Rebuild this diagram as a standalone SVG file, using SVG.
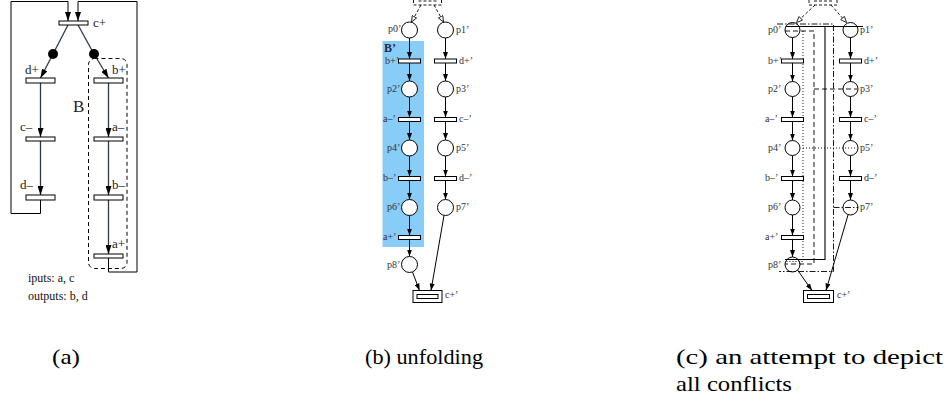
<svg xmlns="http://www.w3.org/2000/svg" width="949" height="403" viewBox="0 0 949 403">
  <style>
    .bg { fill: #ffffff; }
    .bar { fill: #ffffff; stroke: #000; stroke-width: 1; }
    .pl { fill: #ffffff; stroke: #000; stroke-width: 1; }
    .tok { fill: #000; }
    .arcA { fill: none; stroke: #2b3b4b; stroke-width: 1.3; }
    .arc { fill: none; stroke: #000; stroke-width: 1; }
    .loop { fill: none; stroke: #000; stroke-width: 1; }
    .dash { fill: none; stroke: #000; stroke-width: 1; stroke-dasharray: 4 3; }
    .dashd { fill: none; stroke: #000; stroke-width: 0.9; stroke-dasharray: 3 2; }
    .c-solid { fill: none; stroke: #000; stroke-width: 1.1; }
    .c-dashdot { fill: none; stroke: #000; stroke-width: 0.9; stroke-dasharray: 6 2 1.5 2; }
    .c-dashed { fill: none; stroke: #000; stroke-width: 0.9; stroke-dasharray: 5 3; }
    .c-dotted { fill: none; stroke: #000; stroke-width: 0.9; stroke-dasharray: 1 2; }
    .lblA { font-family: "Liberation Serif", "Times New Roman", Times, "DejaVu Serif", serif; font-size: 13px; fill: #222; }
    .lbl { font-family: "Liberation Serif", "Times New Roman", Times, "DejaVu Serif", serif; font-size: 10px; fill: #333; }
    .io { font-family: "Liberation Serif", "Times New Roman", Times, "DejaVu Serif", serif; font-size: 12px; fill: #111; }
    .cap { font-family: "Liberation Serif", "Times New Roman", Times, "DejaVu Serif", serif; font-size: 22px; fill: #000; }
  </style>
  <defs>
    <marker id="arrA" viewBox="0 0 9 6" refX="9" refY="3" markerWidth="9" markerHeight="6" markerUnits="userSpaceOnUse" orient="auto">
      <path d="M0,0 L9,3 L0,6 z" fill="#000"/>
    </marker>
    <marker id="arr" viewBox="0 0 7 5" refX="7" refY="2.5" markerWidth="7" markerHeight="5" markerUnits="userSpaceOnUse" orient="auto">
      <path d="M0,0 L7,2.5 L0,5 z" fill="#000"/>
    </marker>
    <marker id="arrOpen" viewBox="0 0 7 6" refX="6.5" refY="3" markerWidth="7" markerHeight="6" markerUnits="userSpaceOnUse" orient="auto">
      <path d="M0.5,0.5 L6.5,3 L0.5,5.5 z" fill="#fff" stroke="#000" stroke-width="0.8"/>
    </marker>
  </defs>

  <rect class="bg" x="0" y="0" width="949" height="403"/>

  <!-- ===================== (a) original net ===================== -->
  <g id="a-region-B">
    <rect class="dash" x="88.5" y="58.5" width="38.5" height="210" rx="6"/>
    <text class="lblA" x="73" y="112" style="font-size:17px">B</text>
  </g>

  <g id="a-connectors">
    <line class="arcA" x1="68" y1="25" x2="53" y2="54"/>
    <line class="arcA" x1="53" y1="54" x2="40.5" y2="78" marker-end="url(#arrA)"/>
    <line class="arcA" x1="78" y1="25" x2="94" y2="54"/>
    <line class="arcA" x1="94" y1="54" x2="108.5" y2="78" marker-end="url(#arrA)"/>
    <line class="arcA" x1="40.5" y1="83" x2="40.5" y2="137" marker-end="url(#arrA)"/>
    <line class="arcA" x1="40.5" y1="141" x2="40.5" y2="195" marker-end="url(#arrA)"/>
    <line class="arcA" x1="108.5" y1="83" x2="108.5" y2="137" marker-end="url(#arrA)"/>
    <line class="arcA" x1="108.5" y1="141" x2="108.5" y2="195" marker-end="url(#arrA)"/>
    <line class="arcA" x1="108.5" y1="200" x2="108.5" y2="254" marker-end="url(#arrA)"/>
    <path class="loop" d="M40.5,200 V213.5 H11 V1.5 H68 V21" marker-end="url(#arrA)"/>
    <path class="loop" d="M108.5,258 V272 H137 V1.5 H78 V21" marker-end="url(#arrA)"/>
  </g>

  <g id="a-t-cplus"><rect class="bar" x="59" y="21" width="29" height="4"/><text class="lblA" x="93" y="27">c+</text></g>
  <g id="a-p-left"><circle class="tok" cx="53" cy="54" r="5"/></g>
  <g id="a-p-right"><circle class="tok" cx="94" cy="54" r="5"/></g>
  <g id="a-t-dplus"><rect class="bar" x="26" y="78" width="29" height="5"/><text class="lblA" x="25" y="74">d+</text></g>
  <g id="a-t-bplus"><rect class="bar" x="94" y="78" width="29" height="5"/><text class="lblA" x="112" y="74">b+</text></g>
  <g id="a-t-cminus"><rect class="bar" x="26" y="137" width="29" height="4"/><text class="lblA" x="20" y="131">c–</text></g>
  <g id="a-t-aminus"><rect class="bar" x="94" y="137" width="29" height="4"/><text class="lblA" x="112" y="131">a–</text></g>
  <g id="a-t-dminus"><rect class="bar" x="26" y="195" width="29" height="5"/><text class="lblA" x="20" y="189">d–</text></g>
  <g id="a-t-bminus"><rect class="bar" x="94" y="195" width="29" height="5"/><text class="lblA" x="112" y="189">b–</text></g>
  <g id="a-t-aplus"><rect class="bar" x="94" y="254" width="29" height="4"/><text class="lblA" x="112" y="248">a+</text></g>

  <g id="a-io">
    <text class="io" x="28" y="282">iputs: a, c</text>
    <text class="io" x="28" y="300">outputs: b, d</text>
  </g>

  <!-- ===================== (b) unfolding ===================== -->
  <g id="b-region-B">
    <rect x="382.5" y="41" width="41.5" height="206" fill="#87cdf8"/>
    <text x="384" y="52" style="font-family:'Liberation Serif','Times New Roman',Times,'DejaVu Serif',serif;font-size:12px;font-weight:bold;fill:#1c2c4c">B’</text>
  </g>

  <g id="b-connectors">
    <line class="dashd" x1="421" y1="5" x2="411.5" y2="22" marker-end="url(#arrOpen)"/>
    <line class="dashd" x1="434" y1="5" x2="443.5" y2="22" marker-end="url(#arrOpen)"/>
    <line class="arc" x1="409.5" y1="38" x2="409.5" y2="59" marker-end="url(#arr)"/>
    <line class="arc" x1="409.5" y1="63" x2="409.5" y2="81" marker-end="url(#arr)"/>
    <line class="arc" x1="409.5" y1="97" x2="409.5" y2="117.5" marker-end="url(#arr)"/>
    <line class="arc" x1="409.5" y1="121.5" x2="409.5" y2="140" marker-end="url(#arr)"/>
    <line class="arc" x1="409.5" y1="156" x2="409.5" y2="176.5" marker-end="url(#arr)"/>
    <line class="arc" x1="409.5" y1="180.5" x2="409.5" y2="199.5" marker-end="url(#arr)"/>
    <line class="arc" x1="409.5" y1="215.5" x2="409.5" y2="235.5" marker-end="url(#arr)"/>
    <line class="arc" x1="409.5" y1="239.5" x2="409.5" y2="256.5" marker-end="url(#arr)"/>
    <line class="arc" x1="412.5" y1="272" x2="419.5" y2="290.5" marker-end="url(#arr)"/>
    <line class="arc" x1="445.5" y1="38" x2="445.5" y2="59" marker-end="url(#arr)"/>
    <line class="arc" x1="445.5" y1="63" x2="445.5" y2="81" marker-end="url(#arr)"/>
    <line class="arc" x1="445.5" y1="97" x2="445.5" y2="117.5" marker-end="url(#arr)"/>
    <line class="arc" x1="445.5" y1="121.5" x2="445.5" y2="140" marker-end="url(#arr)"/>
    <line class="arc" x1="445.5" y1="156" x2="445.5" y2="176.5" marker-end="url(#arr)"/>
    <line class="arc" x1="445.5" y1="180.5" x2="445.5" y2="199.5" marker-end="url(#arr)"/>
    <line class="arc" x1="444" y1="215.5" x2="431" y2="290.5" marker-end="url(#arr)"/>
  </g>

  <g id="b-t-top">
    <rect class="dashd" x="413.5" y="-7" width="28" height="12"/>
    <rect class="dashd" x="417.5" y="-3" width="20" height="4"/>
  </g>
  <g id="b-p0"><circle class="pl" cx="409.5" cy="30" r="8"/><text class="lbl" x="388" y="32">p0’</text></g>
  <g id="b-p1"><circle class="pl" cx="445.5" cy="30" r="8"/><text class="lbl" x="456" y="33">p1’</text></g>
  <g id="b-bplus"><rect class="bar" x="398.5" y="59" width="22" height="4"/><text class="lbl" x="385" y="64">b+’</text></g>
  <g id="b-dplus"><rect class="bar" x="434.5" y="59" width="22" height="4"/><text class="lbl" x="459" y="64">d+’</text></g>
  <g id="b-p2"><circle class="pl" cx="409.5" cy="89" r="8"/><text class="lbl" x="387" y="92">p2’</text></g>
  <g id="b-p3"><circle class="pl" cx="445.5" cy="89" r="8"/><text class="lbl" x="456" y="92">p3’</text></g>
  <g id="b-aminus"><rect class="bar" x="398.5" y="117.5" width="22" height="4"/><text class="lbl" x="383" y="122">a–’</text></g>
  <g id="b-cminus"><rect class="bar" x="434.5" y="117.5" width="22" height="4"/><text class="lbl" x="459" y="122">c–’</text></g>
  <g id="b-p4"><circle class="pl" cx="409.5" cy="148" r="8"/><text class="lbl" x="387" y="151">p4’</text></g>
  <g id="b-p5"><circle class="pl" cx="445.5" cy="148" r="8"/><text class="lbl" x="456" y="151">p5’</text></g>
  <g id="b-bminus"><rect class="bar" x="398.5" y="176.5" width="22" height="4"/><text class="lbl" x="383" y="181">b–’</text></g>
  <g id="b-dminus"><rect class="bar" x="434.5" y="176.5" width="22" height="4"/><text class="lbl" x="459" y="181">d–’</text></g>
  <g id="b-p6"><circle class="pl" cx="409.5" cy="207.5" r="8"/><text class="lbl" x="387" y="210">p6’</text></g>
  <g id="b-p7"><circle class="pl" cx="445.5" cy="207.5" r="8"/><text class="lbl" x="456" y="210">p7’</text></g>
  <g id="b-aplus"><rect class="bar" x="398.5" y="235.5" width="22" height="4"/><text class="lbl" x="383" y="240">a+’</text></g>
  <g id="b-p8"><circle class="pl" cx="409.5" cy="264.5" r="8"/><text class="lbl" x="387" y="268">p8’</text></g>
  <g id="b-cplus">
    <rect class="bar" x="413" y="290.5" width="29" height="12"/>
    <rect class="bar" x="417" y="294.5" width="21" height="4"/>
    <text class="lbl" x="445" y="298">c+’</text>
  </g>

  <!-- ===================== (c) conflicts ===================== -->
  <g id="c-conflicts">
    <path class="c-solid" d="M786,26.5 H863 M825,26.5 V259.5 H785"/>
    <path class="c-dashdot" d="M777,24 H833.5 V271.5 H779 M833.5,207.5 H858"/>
    <path class="c-dashed" d="M785,31 H814 V264 H785 M814,89 H857"/>
    <path class="c-dotted" d="M803,31 V261.5 H786 M803,148 H857"/>
  </g>

  <g id="c-connectors">
    <line class="dashd" x1="815" y1="5" x2="796.5" y2="22.5" marker-end="url(#arrOpen)"/>
    <line class="dashd" x1="831" y1="5" x2="846.5" y2="22.5" marker-end="url(#arrOpen)"/>
    <line class="arc" x1="792.5" y1="37.5" x2="792.5" y2="59" marker-end="url(#arr)"/>
    <line class="arc" x1="792.5" y1="63" x2="792.5" y2="81.5" marker-end="url(#arr)"/>
    <line class="arc" x1="792.5" y1="96.5" x2="792.5" y2="117.5" marker-end="url(#arr)"/>
    <line class="arc" x1="792.5" y1="121.5" x2="792.5" y2="140.5" marker-end="url(#arr)"/>
    <line class="arc" x1="792.5" y1="155.5" x2="792.5" y2="176.5" marker-end="url(#arr)"/>
    <line class="arc" x1="792.5" y1="180.5" x2="792.5" y2="200" marker-end="url(#arr)"/>
    <line class="arc" x1="792.5" y1="215" x2="792.5" y2="235.5" marker-end="url(#arr)"/>
    <line class="arc" x1="792.5" y1="239.5" x2="792.5" y2="257" marker-end="url(#arr)"/>
    <line class="arc" x1="797.5" y1="270" x2="812" y2="290.5" marker-end="url(#arr)"/>
    <line class="arc" x1="850.5" y1="37.5" x2="850.5" y2="59" marker-end="url(#arr)"/>
    <line class="arc" x1="850.5" y1="63" x2="850.5" y2="81.5" marker-end="url(#arr)"/>
    <line class="arc" x1="850.5" y1="96.5" x2="850.5" y2="117.5" marker-end="url(#arr)"/>
    <line class="arc" x1="850.5" y1="121.5" x2="850.5" y2="140.5" marker-end="url(#arr)"/>
    <line class="arc" x1="850.5" y1="155.5" x2="850.5" y2="176.5" marker-end="url(#arr)"/>
    <line class="arc" x1="850.5" y1="180.5" x2="850.5" y2="200" marker-end="url(#arr)"/>
    <line class="arc" x1="848" y1="215" x2="826" y2="290.5" marker-end="url(#arr)"/>
  </g>

  <g id="c-t-top">
    <rect class="dashd" x="809" y="-7" width="28" height="12"/>
    <rect class="dashd" x="813" y="-3" width="20" height="4"/>
  </g>
  <g id="c-p0"><circle class="pl" cx="792.5" cy="30" r="7.5" fill-opacity="0"/><text class="lbl" x="768" y="33">p0’</text></g>
  <g id="c-p1"><circle class="pl" cx="850.5" cy="30" r="7.5" fill-opacity="0"/><text class="lbl" x="860" y="33">p1’</text></g>
  <g id="c-bplus"><rect class="bar" x="781.5" y="59" width="22" height="4"/><text class="lbl" x="768" y="64">b+’</text></g>
  <g id="c-dplus"><rect class="bar" x="839.5" y="59" width="22" height="4"/><text class="lbl" x="864" y="64">d+’</text></g>
  <g id="c-p2"><circle class="pl" cx="792.5" cy="89" r="7.5"/><text class="lbl" x="768" y="92">p2’</text></g>
  <g id="c-p3"><circle class="pl" cx="850.5" cy="89" r="7.5" fill-opacity="0"/><text class="lbl" x="860" y="92">p3’</text></g>
  <g id="c-aminus"><rect class="bar" x="781.5" y="117.5" width="22" height="4"/><text class="lbl" x="765" y="122">a–’</text></g>
  <g id="c-cminus"><rect class="bar" x="839.5" y="117.5" width="22" height="4"/><text class="lbl" x="864" y="122">c–’</text></g>
  <g id="c-p4"><circle class="pl" cx="792.5" cy="148" r="7.5"/><text class="lbl" x="768" y="151">p4’</text></g>
  <g id="c-p5"><circle class="pl" cx="850.5" cy="148" r="7.5" fill-opacity="0"/><text class="lbl" x="860" y="151">p5’</text></g>
  <g id="c-bminus"><rect class="bar" x="781.5" y="176.5" width="22" height="4"/><text class="lbl" x="765" y="181">b–’</text></g>
  <g id="c-dminus"><rect class="bar" x="839.5" y="176.5" width="22" height="4"/><text class="lbl" x="864" y="181">d–’</text></g>
  <g id="c-p6"><circle class="pl" cx="792.5" cy="207.5" r="7.5"/><text class="lbl" x="768" y="210">p6’</text></g>
  <g id="c-p7"><circle class="pl" cx="850.5" cy="207.5" r="7.5" fill-opacity="0"/><text class="lbl" x="860" y="210">p7’</text></g>
  <g id="c-aplus"><rect class="bar" x="781.5" y="235.5" width="22" height="4"/><text class="lbl" x="765" y="240">a+’</text></g>
  <g id="c-p8"><circle class="pl" cx="792.5" cy="264.5" r="7.5" fill-opacity="0"/><text class="lbl" x="768" y="268">p8’</text></g>
  <g id="c-cplus">
    <rect class="bar" x="803.5" y="290.5" width="30" height="12"/>
    <rect class="bar" x="807.5" y="294.5" width="22" height="4"/>
    <text class="lbl" x="837" y="298">c+’</text>
  </g>

  <!-- ===================== captions ===================== -->
  <g id="captions">
    <text class="cap" x="52" y="364" textLength="28" lengthAdjust="spacingAndGlyphs">(a)</text>
    <text class="cap" x="365" y="364" textLength="118" lengthAdjust="spacingAndGlyphs">(b) unfolding</text>
    <text class="cap" x="676" y="364" textLength="267" lengthAdjust="spacingAndGlyphs">(c) an attempt to depict</text>
    <text class="cap" x="676" y="391" textLength="116" lengthAdjust="spacingAndGlyphs">all conflicts</text>
  </g>
</svg>
